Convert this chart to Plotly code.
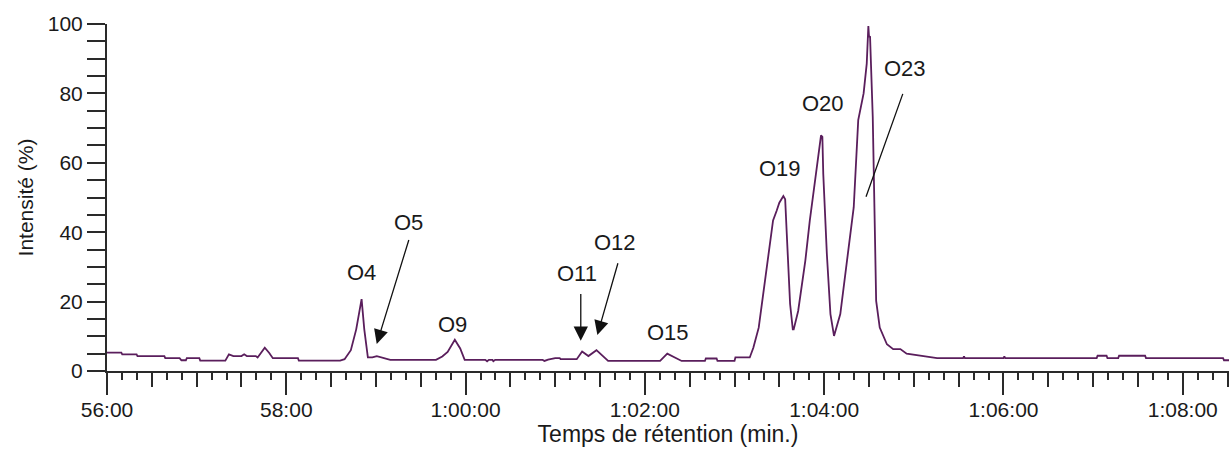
import plotly.graph_objects as go

# Retention time (minutes) and relative intensity (%)
time_min = [
    56.00, 56.16, 56.17, 56.33, 56.34, 56.64, 56.65, 56.81, 56.83, 56.88, 56.89, 57.03,
    57.04, 57.32, 57.36, 57.41, 57.50, 57.53, 57.56, 57.66, 57.68, 57.70, 57.76, 57.81,
    57.85, 58.13, 58.14, 58.60, 58.65, 58.72, 58.78, 58.84, 58.87, 58.91, 58.96, 59.01,
    59.07, 59.16, 59.67, 59.74, 59.80, 59.88, 59.94, 59.99, 60.22, 60.24, 60.26, 60.30,
    60.31, 60.33, 60.86, 60.88, 60.92, 61.00, 61.05, 61.06, 61.24, 61.30, 61.37, 61.46,
    61.59, 62.17, 62.25, 62.33, 62.41, 62.67, 62.68, 62.80, 62.81, 63.00, 63.01, 63.17,
    63.21, 63.27, 63.32, 63.38, 63.43, 63.47, 63.50, 63.545, 63.565, 63.583, 63.62, 63.65,
    63.66, 63.71, 63.79, 63.84, 63.90, 63.935, 63.965, 63.98, 63.99, 64.03, 64.07, 64.11,
    64.18, 64.25, 64.33, 64.38, 64.44, 64.475, 64.493, 64.50, 64.512, 64.542, 64.56, 64.58,
    64.62, 64.65, 64.70, 64.77, 64.85, 64.92, 65.07, 65.26, 65.55, 65.56, 65.57, 66.00,
    66.01, 66.02, 67.04, 67.05, 67.15, 67.16, 67.28, 67.29, 67.58, 67.59, 68.45, 68.46,
    68.52,
]
intensity = [
    5.3, 5.3, 4.8, 4.8, 4.3, 4.3, 3.7, 3.7, 3.1, 3.1, 3.7, 3.7,
    3.0, 3.0, 4.8, 4.3, 4.3, 4.8, 4.3, 4.3, 3.9, 4.6, 6.7, 5.2,
    3.7, 3.7, 3.0, 3.0, 3.4, 6.0, 12.0, 20.7, 12.0, 3.9, 3.9, 4.3,
    3.9, 3.2, 3.2, 4.2, 5.5, 9.0, 6.5, 3.2, 3.2, 2.8, 3.2, 3.2,
    2.8, 3.2, 3.2, 2.9, 3.3, 3.7, 3.7, 3.4, 3.4, 5.6, 4.3, 6.0,
    2.9, 2.9, 5.0, 4.0, 2.9, 2.9, 3.6, 3.6, 2.9, 2.9, 3.9, 3.9,
    6.7, 12.5, 22.2, 33.7, 43.4, 46.2, 48.5, 50.4, 49.5, 39.5, 19.3, 12.0,
    12.0, 17.3, 31.8, 43.4, 54.9, 60.7, 67.9, 67.5, 56.8, 33.7, 16.4, 10.1,
    16.4, 30.8, 47.2, 72.3, 80.0, 88.6, 99.4, 96.5, 96.3, 73.2, 43.4, 20.2,
    12.5, 10.6, 7.7, 6.3, 6.3, 5.0, 4.4, 3.7, 3.7, 4.2, 3.7, 3.7,
    4.2, 3.7, 3.7, 4.4, 4.4, 3.7, 3.7, 4.4, 4.4, 3.7, 3.7, 3.1,
    3.1,
]

# Tick labels
x_tick_vals = [56, 58, 60, 62, 64, 66, 68]
x_tick_text = ["56:00", "58:00", "1:00:00", "1:02:00", "1:04:00", "1:06:00", "1:08:00"]
y_tick_vals = [0, 20, 40, 60, 80, 100]

# Peak labels: name, label position (min, %)
peak_names = ["O4", "O5", "O9", "O11", "O12", "O15", "O19", "O20", "O23"]
peak_label_t = [58.834, 59.358, 59.849, 61.243, 61.667, 62.258, 63.508, 63.988, 64.902]
peak_label_v = [28.5, 42.7, 13.3, 28.2, 36.9, 11.0, 58.5, 77.2, 87.3]

# Pointer lines: tip and tail (min, %), with or without arrowhead
pointer_tip_t = [59.009, 61.285, 61.470, 64.467]
pointer_tip_v = [7.8, 8.7, 10.4, 50.2]
pointer_tail_t = [59.372, 61.285, 61.704, 64.883]
pointer_tail_v = [38.2, 22.6, 31.5, 80.3]
pointer_head = [True, True, True, False]

FONT = "Liberation Sans, Arial, sans-serif"
TXT = "#1a1a1a"
AX = "#2a2a2a"

fig = go.Figure()
fig.add_trace(go.Scatter(
    x=time_min, y=intensity, mode="lines",
    line=dict(color="#5a1e5c", width=1.8),
    showlegend=False, hoverinfo="skip",
))
# helper trace to carry the 30-second tick axis
fig.add_trace(go.Scatter(
    x=time_min, y=intensity, mode="lines", xaxis="x2",
    line=dict(color="rgba(0,0,0,0)", width=0),
    showlegend=False, hoverinfo="skip",
))

annotations = []
for name, t, v in zip(peak_names, peak_label_t, peak_label_v):
    annotations.append(dict(
        x=t, y=v, xref="x", yref="y", text=name, showarrow=False,
        font=dict(family=FONT, size=22, color=TXT),
    ))
for tt, tv, at, av, head in zip(pointer_tip_t, pointer_tip_v, pointer_tail_t, pointer_tail_v, pointer_head):
    annotations.append(dict(
        x=tt, y=tv, xref="x", yref="y", ax=at, ay=av, axref="x", ayref="y",
        text="", showarrow=True, arrowhead=2 if head else 0,
        arrowsize=2.2, arrowwidth=1.3, arrowcolor="#111111", standoff=0, startstandoff=0,
    ))

x_range = [56, 68.516]
fig.update_layout(
    width=1229, height=450,
    margin=dict(l=107, r=0, t=24, b=79),
    paper_bgcolor="white", plot_bgcolor="white",
    font=dict(family=FONT, size=21, color=TXT),
    annotations=annotations,
    xaxis=dict(
        range=x_range, tickmode="array", tickvals=x_tick_vals, ticktext=x_tick_text,
        ticks="outside", ticklen=22, tickwidth=2, tickcolor=AX,
        showline=True, linecolor=AX, linewidth=2, showgrid=False, zeroline=False,
        automargin=False, ticklabelstandoff=-3,
        tickfont=dict(family=FONT, size=21, color=TXT),
        minor=dict(tickmode="linear", tick0=56, dtick=1/6, ticks="outside", ticklen=7,
                   tickwidth=2, tickcolor=AX, showgrid=False),
        title=dict(text="Temps de rétention (min.)", standoff=3,
                   font=dict(family=FONT, size=23, color=TXT)),
    ),
    xaxis2=dict(
        range=x_range, overlaying="x", anchor="y", side="bottom",
        tickmode="linear", tick0=56, dtick=0.5, ticks="outside", ticklen=15,
        tickwidth=2, tickcolor=AX, showticklabels=False, showline=False,
        showgrid=False, zeroline=False, automargin=False,
    ),
    yaxis=dict(
        range=[0, 100], tickmode="array", tickvals=y_tick_vals,
        ticks="outside", ticklen=18, tickwidth=2, tickcolor=AX,
        showline=True, linecolor=AX, linewidth=2, showgrid=False, zeroline=False,
        automargin=False,
        tickfont=dict(family=FONT, size=21, color=TXT),
        minor=dict(tickmode="linear", tick0=0, dtick=5, ticks="outside", ticklen=18,
                   tickwidth=2, tickcolor=AX, showgrid=False),
        title=dict(text="Intensité (%)", standoff=8,
                   font=dict(family=FONT, size=21, color=TXT)),
    ),
)

fig.write_html("out.html", config={"displayModeBar": False},
               post_script="document.body.style.margin='0';")
